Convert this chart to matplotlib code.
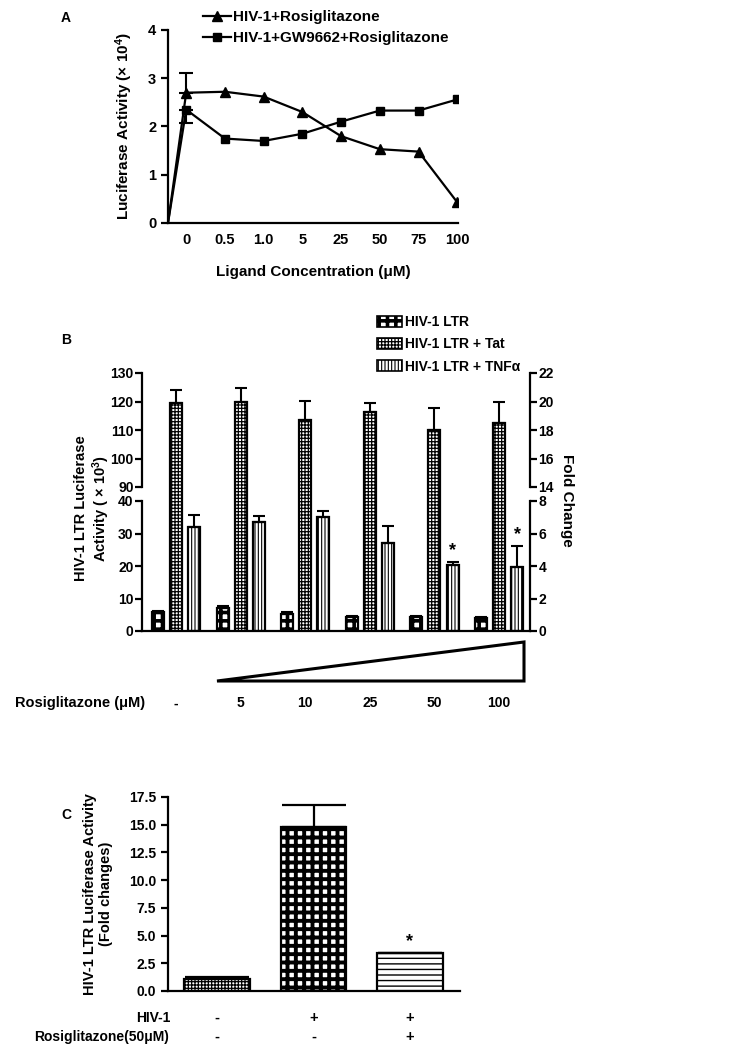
import numpy as np
import matplotlib
matplotlib.use("Agg")
import matplotlib.pyplot as plt
from matplotlib.patches import Patch, Polygon

plt.rcParams['font.family'] = ['Liberation Sans', 'DejaVu Sans']
plt.rcParams['font.weight'] = 'bold'
plt.rcParams['axes.labelweight'] = 'bold'
plt.rcParams['mathtext.default'] = 'regular'

#%% data
# panel A
conc_A = ['0', '0.5', '1.0', '5', '25', '50', '75', '100']
rosi = [2.70, 2.72, 2.62, 2.30, 1.80, 1.53, 1.48, 0.43]
gw = [2.35, 1.75, 1.70, 1.85, 2.10, 2.33, 2.33, 2.56]
rosi_err0 = 0.40   # upward, first point only
gw_err0 = 0.27     # downward, first point only

# panel B
conc_B = ['-', '5', '10', '25', '50', '100']
ltr = [6.0, 7.0, 5.3, 4.4, 4.4, 4.0]
ltr_err = [0.3, 0.8, 0.5, 0.3, 0.2, 0.4]
tat = [119.6, 120.0, 113.5, 116.3, 110.0, 112.5]
tat_err = [4.4, 4.6, 6.8, 3.1, 7.8, 7.5]
tnf = [32.1, 33.4, 35.2, 27.2, 20.2, 19.8]
tnf_err = [3.7, 2.1, 1.6, 5.1, 1.1, 6.3]
sig_B = [False, False, False, False, True, True]

# panel C
hiv_row = ['-', '+', '+']
rosi_row = ['-', '-', '+']
fold = [1.1, 14.8, 3.4]
fold_err = [0.12, 2.0, 0.05]
sig_C = [False, False, True]

#%% layout helpers
W, H = 746, 1050
fig = plt.figure(figsize=(W / 100, H / 100), dpi=100)


def box(x0, y0, x1, y1):
    # pixel box -> figure fraction
    return [x0 / W, 1 - y1 / H, (x1 - x0) / W, (y1 - y0) / H]


def set_hlw(patches, hlw):
    for p in patches:
        if hasattr(p, 'set_hatch_linewidth'):
            p.set_hatch_linewidth(hlw)


def hbar(ax, x, h, w, hatch, hlw, **kw):
    bars = ax.bar(x, h, w, facecolor='white', edgecolor='k', linewidth=1.6,
                  hatch=hatch, **kw)
    set_hlw(bars, hlw)
    return bars


def style(ax, lw=1.6):
    for s in ax.spines.values():
        s.set_linewidth(lw)
    ax.tick_params(width=lw, length=5, direction='out')


#%% panel A
axA = fig.add_axes(box(168, 30, 458, 223))
xA = np.arange(len(conc_A))
x0 = -0.47
axA.plot(np.r_[x0, xA], np.r_[0, rosi], 'k-^', lw=1.6, ms=6.5,
         markevery=list(range(1, len(xA) + 1)), label='HIV-1+Rosiglitazone')
axA.plot(np.r_[x0, xA], np.r_[0, gw], 'k-s', lw=1.6, ms=6,
         markevery=list(range(1, len(xA) + 1)), label='HIV-1+GW9662+Rosiglitazone')
axA.errorbar(xA[0], rosi[0], yerr=[[0], [rosi_err0]], fmt='none', ecolor='k',
             capsize=5, elinewidth=1.5, capthick=1.5)
axA.errorbar(xA[0], gw[0], yerr=[[gw_err0], [0]], fmt='none', ecolor='k',
             capsize=5, elinewidth=1.5, capthick=1.5)
axA.set_xlim(x0, 7.02)
axA.set_ylim(0, 4)
axA.set_yticks([0, 1, 2, 3, 4])
axA.set_xticks(xA)
axA.set_xticklabels(conc_A)
style(axA)
axA.spines[['top', 'right']].set_visible(False)
axA.tick_params(axis='x', length=0, pad=7)
axA.tick_params(labelsize=10.5)
axA.set_ylabel('Luciferase Activity (× 10$^4$)', fontsize=11)
axA.yaxis.set_label_coords(-0.115, 0.5)
axA.set_xlabel('Ligand Concentration (μM)', fontsize=11)
axA.xaxis.set_label_coords(0.5, -0.22)
fig.legend(*axA.get_legend_handles_labels(), loc='upper left',
           bbox_to_anchor=(203 / W, 1 - 10 / H), frameon=False, fontsize=11,
           handlelength=1.8, handletextpad=0.15, labelspacing=0.45,
           borderpad=0, borderaxespad=0)
fig.text(66 / W, 1 - 18 / H, 'A', ha='center', va='center', fontsize=10)

#%% panel B (broken axis)
top_px, brk_top, brk_bot, bot_px = 373, 487, 501, 631
axT = fig.add_axes(box(142, top_px, 530, brk_top))
axB = fig.add_axes(box(142, brk_bot, 530, bot_px))
xg = np.arange(len(conc_B))
off, bw = 0.28, 0.186
gap_units = (brk_bot - brk_top) / (brk_top - top_px) * 40 + 1
ekw = dict(capsize=4.5, elinewidth=1.5, capthick=1.5)

hbar(axB, xg - off, ltr, bw, '++', 2.6,
     yerr=[np.zeros(len(ltr)), ltr_err], ecolor='k', error_kw=ekw)
hbar(axB, xg, tat, bw, '+++++', 0.9)
hbar(axB, xg + off, tnf, bw, '|||||', 0.8,
     yerr=[np.zeros(len(tnf)), tnf_err], ecolor='k', error_kw=ekw)
hbar(axT, xg, np.array(tat) - (90 - gap_units), bw, '+++++', 0.9,
     bottom=90 - gap_units, clip_on=False,
     yerr=[np.zeros(len(tat)), tat_err], ecolor='k', error_kw=ekw)

for i, s in enumerate(sig_B):
    if s:
        axB.annotate('*', (xg[i] + off, tnf[i] + tnf_err[i]), xytext=(0, 2),
                     textcoords='offset points', ha='center', va='bottom',
                     fontsize=13)

for ax, lo, hi, rlo, rhi in [(axT, 90, 130, 14, 22), (axB, 0, 40, 0, 8)]:
    ax.set_xlim(-0.53, 5.48)
    ax.set_ylim(lo, hi)
    ax.set_yticks(np.arange(lo, hi + 1, 10))
    style(ax)
    ax.spines[['top', 'right']].set_visible(False)
    ax.tick_params(axis='y', labelsize=10, pad=1)
    ax2 = ax.twinx()
    ax2.set_ylim(rlo, rhi)
    ax2.set_yticks(np.arange(rlo, rhi + 1, 2))
    style(ax2)
    ax2.spines[['top', 'left', 'bottom']].set_visible(False)
    ax2.tick_params(axis='y', labelsize=10, pad=1)
axT.spines['bottom'].set_visible(False)
axT.set_xticks([])
axB.set_xticks(xg)
axB.set_xticklabels(conc_B, fontsize=10)
axB.tick_params(axis='x', length=0, pad=47)

# rising wedge for rosiglitazone dose
axW = fig.add_axes(box(217, 642, 524, 681))
axW.axis('off')
axW.add_patch(Polygon([(0, 0), (1, 1), (1, 0)], closed=True, fill=False,
                      lw=2.2, ec='k', clip_on=False, joinstyle='miter'))
fig.text(145 / W, 1 - 703 / H, 'Rosiglitazone (μM)', ha='right', va='center',
         fontsize=10.5)

fig.text(93 / W, 1 - 508 / H, 'HIV-1 LTR Luciferase\nActivity ( × 10$^3$)',
         rotation=90, ha='center', va='center', fontsize=10.5,
         multialignment='center')
fig.text(567 / W, 1 - 500 / H, 'Fold Change', rotation=270, ha='center',
         va='center', fontsize=11)
fig.text(66 / W, 1 - 340 / H, 'B', ha='center', va='center', fontsize=10)

leg_handles = [Patch(facecolor='white', edgecolor='k', hatch='++', lw=1.2),
               Patch(facecolor='white', edgecolor='k', hatch='+++++', lw=1.2),
               Patch(facecolor='white', edgecolor='k', hatch='|||||', lw=1.2)]
leg = fig.legend(leg_handles, ['HIV-1 LTR', 'HIV-1 LTR + Tat', 'HIV-1 LTR + TNFα'],
                 loc='upper left', bbox_to_anchor=(377 / W, 1 - 315 / H),
                 frameon=False, handlelength=1.8, handleheight=0.85,
                 handletextpad=0.2, labelspacing=0.6, borderpad=0,
                 borderaxespad=0, fontsize=10)
for p, hl in zip(leg.legend_handles, [2.6, 0.9, 0.8]):
    set_hlw([p], hl)

#%% panel C
axC = fig.add_axes(box(168, 797, 460, 991))
xc = np.arange(len(fold))
bars = hbar(axC, xc, fold, 0.68, None, 1.0,
            yerr=[np.zeros(len(fold)), fold_err], ecolor='k',
            error_kw=dict(capsize=23, elinewidth=1.6, capthick=1.6))
for b, ht, hl in zip(bars, ['+++++', '++', '---'], [0.9, 2.8, 1.0]):
    b.set_hatch(ht)
    set_hlw([b], hl)
for i, s in enumerate(sig_C):
    if s:
        axC.annotate('*', (xc[i], fold[i] + fold_err[i]), xytext=(0, 2),
                     textcoords='offset points', ha='center', va='bottom',
                     fontsize=13)
axC.set_xlim(-0.51, 2.52)
axC.set_ylim(0, 17.5)
axC.set_yticks(np.arange(0, 17.6, 2.5))
axC.yaxis.set_major_formatter('{x:.1f}')
axC.set_xticks([])
style(axC)
axC.spines[['top', 'right']].set_visible(False)
axC.tick_params(labelsize=10)
tr = axC.get_xaxis_transform()
for i in xc:
    axC.text(i, -0.14, hiv_row[i], transform=tr, ha='center', va='center', fontsize=10.5)
    axC.text(i, -0.237, rosi_row[i], transform=tr, ha='center', va='center', fontsize=10.5)
axC.text(0.01, -0.14, 'HIV-1', transform=axC.transAxes, ha='right', va='center', fontsize=10)
axC.text(0.005, -0.237, 'Rosiglitazone(50μM)', transform=axC.transAxes, ha='right',
         va='center', fontsize=10)
fig.text(98 / W, 1 - 894 / H, 'HIV-1 LTR Luciferase Activity\n(Fold changes)',
         rotation=90, ha='center', va='center', fontsize=10.5,
         multialignment='center')
fig.text(66 / W, 1 - 815 / H, 'C', ha='center', va='center', fontsize=10)

fig.savefig('out.png', dpi=100)
